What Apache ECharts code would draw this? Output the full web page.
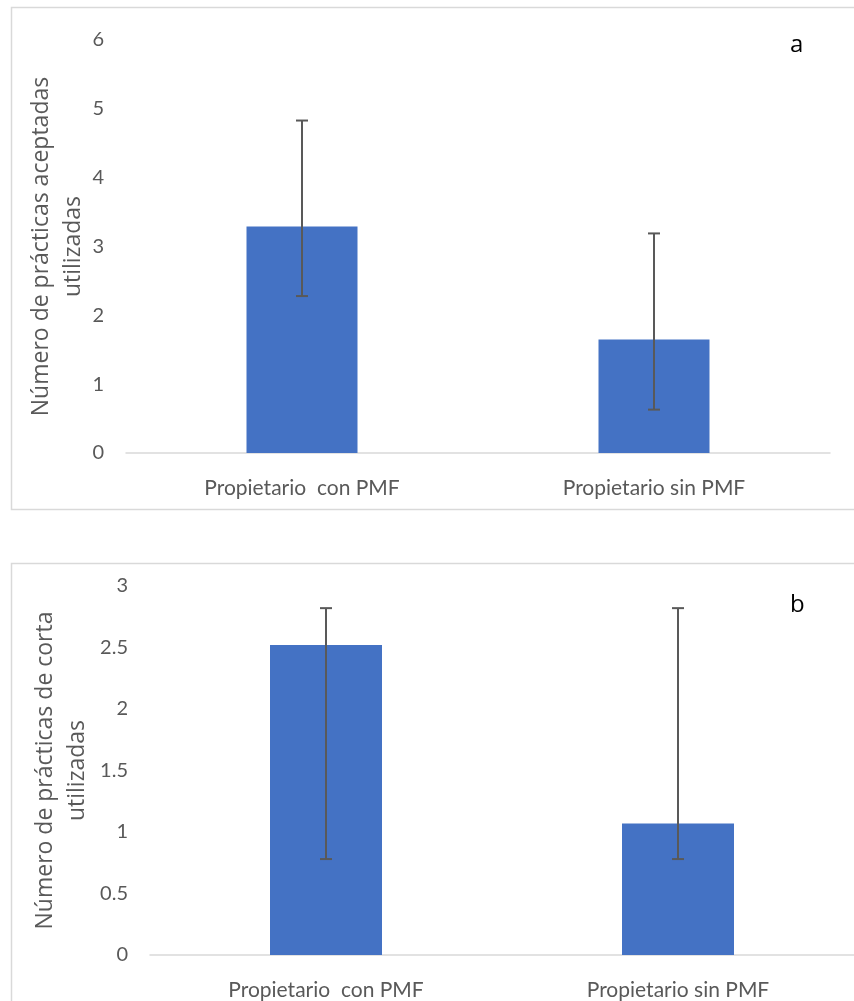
<!DOCTYPE html>
<html>
<head>
<meta charset="utf-8">
<script src="https://cdn.jsdelivr.net/npm/echarts@6/dist/echarts.min.js"></script>
<style>
html,body{margin:0;padding:0;background:#fff;}
#main{width:854px;height:1001px;}
</style>
</head>
<body>
<div id="main"></div>
<script>
// Chart a
const categoriesA = ["Propietario  con PMF", "Propietario sin PMF"];
const valuesA = [3.29, 1.65];
const lowerA = [2.28, 0.63];
const upperA = [4.83, 3.19];
const ticksA = { min: 0, max: 6, interval: 1 };
const titleA = "Número de prácticas aceptadas\nutilizadas";

// Chart b
const categoriesB = ["Propietario  con PMF", "Propietario sin PMF"];
const valuesB = [2.52, 1.07];
const lowerB = [0.78, 0.78];
const upperB = [2.82, 2.82];
const ticksB = { min: 0, max: 3, interval: 0.5 };
const titleB = "Número de prácticas de corta\nutilizadas";

const TXT = '#595959';
const TICKFONT = 'Lato';
const TITLEFONT = 'Open Sans';

function errData(lo, hi) {
  return lo.map((v, i) => [i, v, hi[i]]);
}
function renderErr(params, api) {
  const x = api.value(0);
  const pLo = api.coord([x, api.value(1)]);
  const pHi = api.coord([x, api.value(2)]);
  const hw = 6;
  const st = { stroke: '#595959', lineWidth: 2 };
  return {
    type: 'group',
    children: [
      { type: 'line', shape: { x1: pLo[0], y1: pLo[1], x2: pHi[0], y2: pHi[1] }, style: st },
      { type: 'line', shape: { x1: pHi[0] - hw, y1: pHi[1], x2: pHi[0] + hw, y2: pHi[1] }, style: st },
      { type: 'line', shape: { x1: pLo[0] - hw, y1: pLo[1], x2: pLo[0] + hw, y2: pLo[1] }, style: st }
    ]
  };
}
function xAx(cats, gi) {
  return {
    type: 'category', gridIndex: gi, data: cats,
    axisLine: { lineStyle: { color: '#d9d9d9', width: 1.5 } },
    axisTick: { show: false },
    axisLabel: { color: TXT, fontSize: 21, fontFamily: TICKFONT, margin: 25 }
  };
}
function yAx(t, gi, name, gap) {
  return {
    type: 'value', gridIndex: gi, min: t.min, max: t.max, interval: t.interval,
    splitLine: { show: false }, axisLine: { show: false }, axisTick: { show: false },
    axisLabel: { color: TXT, fontSize: 20, fontFamily: TICKFONT, margin: 22 },
    name: name, nameLocation: 'middle', nameRotate: 90, nameGap: gap,
    nameMoveOverlap: false,
    nameTextStyle: { color: TXT, fontSize: 23, fontFamily: TITLEFONT, lineHeight: 32 }
  };
}

const chart = echarts.init(document.getElementById('main'));
chart.setOption({
  animation: false,
  backgroundColor: '#fff',
  graphic: [
    { type: 'rect', shape: { x: 11.5, y: 7.5, width: 900, height: 502 }, style: { fill: 'none', stroke: '#d9d9d9', lineWidth: 1.5 }, z: -1 },
    { type: 'rect', shape: { x: 11.5, y: 563.5, width: 900, height: 600 }, style: { fill: 'none', stroke: '#d9d9d9', lineWidth: 1.5 }, z: -1 },
    { type: 'text', left: 790, top: 33, style: { text: 'a', font: '24px "Open Sans"', fill: '#000' } },
    { type: 'text', left: 790, top: 593, style: { text: 'b', font: '24px "Open Sans"', fill: '#000' } }
  ],
  grid: [
    { left: 126, top: 40, width: 704, height: 413 },
    { left: 150, top: 586, width: 714, height: 372 }
  ],
  xAxis: [xAx(categoriesA, 0), xAx(categoriesB, 1)],
  yAxis: [yAx(ticksA, 0, titleA, 37), yAx(ticksB, 1, titleB, 57)],
  series: [
    { type: 'bar', xAxisIndex: 0, yAxisIndex: 0, data: valuesA, barWidth: 111, itemStyle: { color: '#4472C4' } },
    { type: 'custom', xAxisIndex: 0, yAxisIndex: 0, data: errData(lowerA, upperA), renderItem: renderErr, z: 5 },
    { type: 'bar', xAxisIndex: 1, yAxisIndex: 1, data: valuesB, barWidth: 112, itemStyle: { color: '#4472C4' } },
    { type: 'custom', xAxisIndex: 1, yAxisIndex: 1, data: errData(lowerB, upperB), renderItem: renderErr, z: 5 }
  ]
});
</script>
</body>
</html>
